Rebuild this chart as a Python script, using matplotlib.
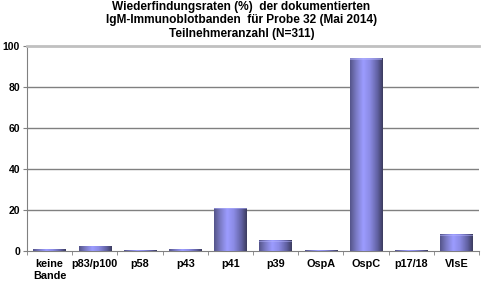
import matplotlib
matplotlib.use("Agg")
import matplotlib.pyplot as plt
from matplotlib.colors import LinearSegmentedColormap
import numpy as np

plt.rcParams["font.family"] = ["Liberation Sans", "DejaVu Sans"]
plt.rcParams["font.weight"] = "bold"

categories = ["keine\nBande", "p83/p100", "p58", "p43", "p41", "p39", "OspA", "OspC", "p17/18", "VlsE"]
values = [0.6, 2.0, 0.3, 0.6, 20.9, 4.9, 0.3, 94.0, 0.3, 7.9]
y_ticks = [0, 20, 40, 60, 80, 100]
title = ("Wiederfindungsraten (%)  der dokumentierten\n"
         "IgM-Immunoblotbanden  für Probe 32 (Mai 2014)\n"
         "Teilnehmeranzahl (N=311)")

BAR_WIDTH = 0.72
GRID = "#808080"

cyl = LinearSegmentedColormap.from_list(
    "cyl",
    [(0.0, "#55558a"), (0.18, "#7a7ac4"), (0.4, "#9c9cff"),
     (0.6, "#8c8ce6"), (0.85, "#6060a0"), (1.0, "#3c3c60")],
)
shade = np.linspace(0, 1, 64).reshape(1, -1)

fig = plt.figure(figsize=(4.83, 2.83), dpi=100)
ax = fig.add_axes([27 / 483, 1 - 251 / 283, 452 / 483, 205 / 283])

x = np.arange(len(categories))
bars = ax.bar(x, values, width=BAR_WIDTH, color="none", edgecolor="none", zorder=3)
for rect in bars:
    x0 = rect.get_x()
    h = rect.get_height()
    ax.imshow(shade, cmap=cyl, aspect="auto", interpolation="bilinear",
              extent=[x0, x0 + rect.get_width(), 0, h], zorder=3)
    cap = min(0.6, h * 0.1)
    ax.fill_between([x0, x0 + rect.get_width()], h - cap, h,
                    color="#b4b4ff", alpha=0.5, linewidth=0, zorder=4)

ax.set_xlim(-0.5, len(categories) - 0.5)
ax.set_ylim(0, 100)

for yv in y_ticks[1:-1]:
    ax.axhline(yv, color=GRID, linewidth=1.0, zorder=1)

ax.spines["right"].set_visible(False)
ax.spines["top"].set_color("#c0c0c0")
ax.spines["top"].set_linewidth(2.0)
ax.spines["left"].set_color(GRID)
ax.spines["bottom"].set_color(GRID)

ax.set_yticks(y_ticks)
ax.set_yticklabels([str(v) for v in y_ticks], fontsize=7.5, fontweight="bold")
ax.tick_params(axis="y", length=3, color=GRID, pad=2)

ax.set_xticks(x)
ax.set_xticklabels(categories, fontsize=7.8, fontweight="bold", linespacing=1.2)
ax.set_xticks(np.arange(-0.5, len(categories), 1), minor=True)
ax.tick_params(axis="x", which="major", length=0, pad=6)
ax.tick_params(axis="x", which="minor", length=3, color=GRID)

fig.text(0.5, 0.995, title, ha="center", va="top", fontsize=8.6,
         fontweight="bold", linespacing=1.12)

fig.savefig("out.png", dpi=100)
